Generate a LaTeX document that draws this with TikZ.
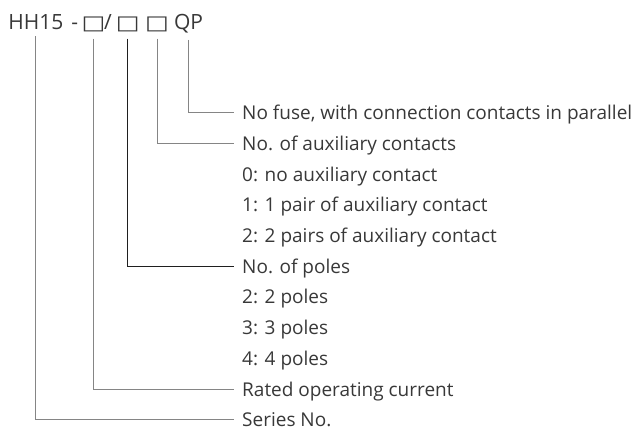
\documentclass[tikz,border=0pt]{standalone}
\usepackage{fontspec}
\setmainfont{Open Sans}
\newfontfamily\boxfont{DejaVu Sans}
\usepackage{graphicx}
\usepackage{xcolor}
\definecolor{textgray}{rgb}{0.22,0.22,0.22}
\definecolor{leadgray}{rgb}{0.52,0.52,0.52}
\definecolor{leaddark}{rgb}{0.12,0.12,0.12}
\usetikzlibrary{positioning}
\newcommand{\slot}{\scalebox{1.2}[0.93]{\boxfont □}}

\begin{document}
\begin{tikzpicture}[x=1bp, y=-1bp,
  every node/.style={inner sep=0pt, text=textgray, font=\fontsize{19bp}{21bp}\selectfont},
  part/.style={anchor=base, font=\fontsize{21bp}{23bp}\selectfont},
  desc/.style={anchor=west, text height=14bp, text depth=0bp},
  lead/.style={draw=leadgray, line width=1bp},
  leadstrong/.style={draw=leaddark, line width=1bp}]
  \useasboundingbox (0,0) rectangle (640,428);

  % type code
  \node[part] (hh) at (35.8,29) {HH15};
  \node[part] (dash) at (74.7,29) {-};
  \node[part] (cur) at (93.5,29) {\slot};
  \node[part] (slash) at (108,29) {/};
  \node[part] (pol) at (127.8,29) {\slot};
  \node[part] (aux) at (157,29) {\slot};
  \node[part] (qp) at (188.5,29) {QP};

  % descriptions
  \node[desc] (qpdesc) at (242,112.7) {No fuse, with connection contacts in parallel};
  \node[desc] (auxdesc) at (242,143.4) {No. of auxiliary contacts};
  \node[desc] (aux0) at (242,174.1) {0: no auxiliary contact};
  \node[desc] (aux1) at (242,204.8) {1: 1 pair of auxiliary contact};
  \node[desc] (aux2) at (242,235.5) {2: 2 pairs of auxiliary contact};
  \node[desc] (poldesc) at (242,266.2) {No. of poles};
  \node[desc] (pol2) at (242,296.9) {2: 2 poles};
  \node[desc] (pol3) at (242,327.6) {3: 3 poles};
  \node[desc] (pol4) at (242,358.3) {4: 4 poles};
  \node[desc] (curdesc) at (242,389) {Rated operating current};
  \node[desc] (hhdesc) at (242,419.4) {Series No.};

  % leaders
  \draw[lead] (qp.south) ++(0,7) |- ([xshift=-8bp]qpdesc.west);
  \draw[lead] (aux.south) ++(0,7) |- ([xshift=-8bp]auxdesc.west);
  \draw[leadstrong] (pol.south) ++(0,7) |- ([xshift=-8bp]poldesc.west);
  \draw[lead] (cur.south) ++(0,7) |- ([xshift=-8bp]curdesc.west);
  \draw[lead] (hh.south) ++(0,7) |- ([xshift=-8bp]hhdesc.west);

\end{tikzpicture}
\end{document}
